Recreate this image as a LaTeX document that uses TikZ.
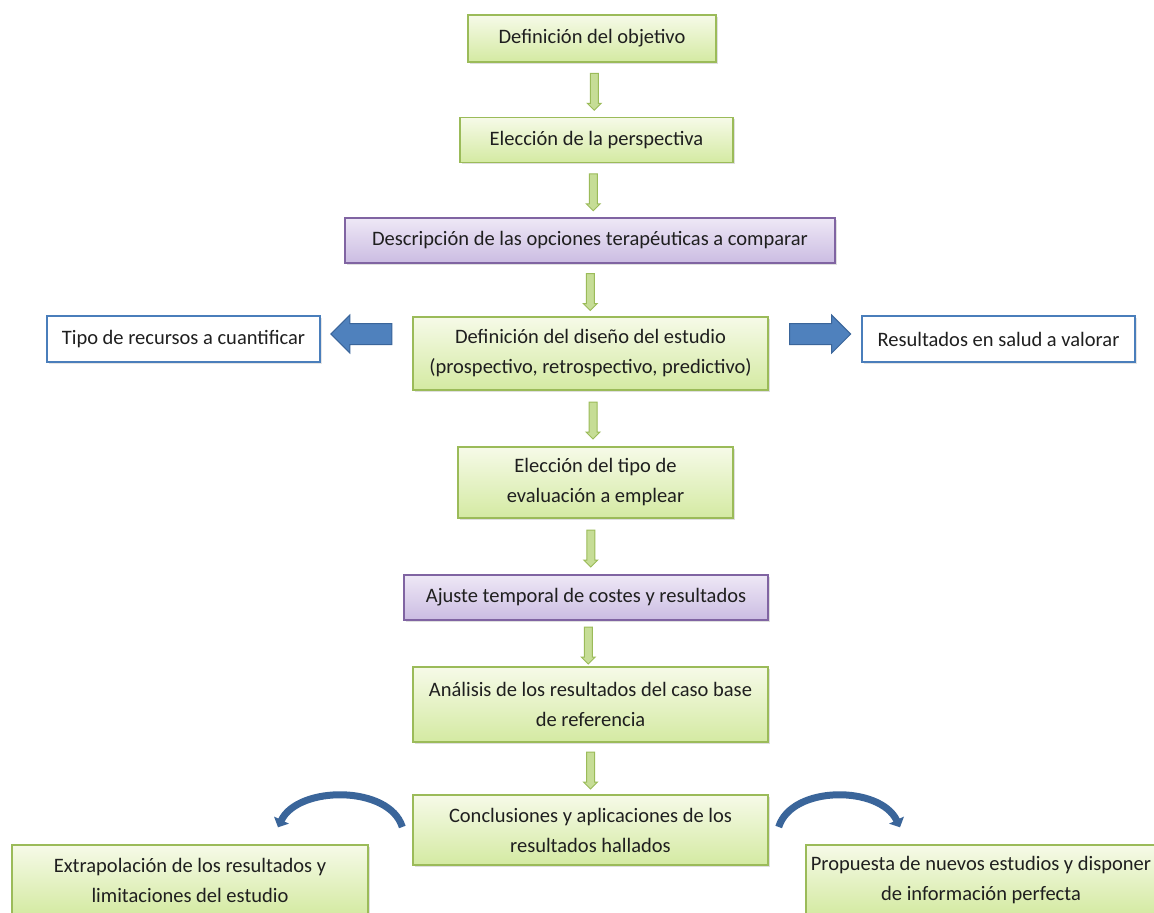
\documentclass[tikz,border=0pt]{standalone}
\usepackage{fontspec}
\setmainfont{Carlito}
\usetikzlibrary{shapes.arrows,shadows,calc,arrows.meta}
\definecolor{gborder}{HTML}{9BBB59}
\definecolor{gtop}{HTML}{F6FAE8}
\definecolor{gbot}{HTML}{D4EAA2}
\definecolor{pborder}{HTML}{8064A2}
\definecolor{ptop}{HTML}{EEE8F6}
\definecolor{pbot}{HTML}{CBBCE2}
\definecolor{bborder}{HTML}{4A7EBB}
\definecolor{bfill}{HTML}{4F81BD}
\definecolor{bdark}{HTML}{3A659A}
\definecolor{txt}{HTML}{1F1F1F}
\definecolor{garfill}{HTML}{C6DD96}
\tikzset{
  box/.style={draw, line width=1.4pt, align=center, inner sep=2pt, text=txt,
    drop shadow={shadow xshift=1.5pt, shadow yshift=-1.5pt, opacity=0.25}},
  gbox/.style={box, draw=gborder, top color=gtop, bottom color=gbot},
  pbox/.style={box, draw=pborder, top color=ptop, bottom color=pbot},
  wbox/.style={draw=bborder, line width=1.6pt, fill=white, text=txt, inner sep=2pt,
    drop shadow={shadow xshift=1.5pt, shadow yshift=-1.5pt, opacity=0.2}},
  garrow/.style={single arrow, draw=gborder, fill=garfill, line width=1pt,
    inner sep=3.5pt, single arrow head extend=3pt, minimum height=37pt,
    rotate=-90},
  barrow/.style={single arrow, draw=bdark, fill=bfill, line width=1pt,
    inner sep=10pt, single arrow head extend=8.5pt, minimum height=61pt},
  curvy/.style={draw=bdark, line width=7pt,
    -{Triangle[width=16pt,length=8pt]}},
}
\begin{document}
\begin{tikzpicture}[x=1pt,y=-1pt,font=\fontsize{20.5}{30}\selectfont]
\useasboundingbox (0,0) rectangle (1154,913);
\fill[white] (0,0) rectangle (1154,913);
\clip (0,0) rectangle (1154,913);

\node[gbox, minimum width=248pt, minimum height=47pt] (b1) at (592,38.5) {Definición del objetivo};
\node[gbox, minimum width=273pt, minimum height=45pt] (b2) at (596.5,140) {Elección de la perspectiva};
\node[pbox, minimum width=490pt, minimum height=45pt] (b3) at (590,240.5) {Descripción de las opciones terapéuticas a comparar};
\node[gbox, minimum width=355pt, minimum height=73pt] (b4) at (590.5,353.5) {Definición del diseño del estudio\\(prospectivo, retrospectivo, predictivo)};
\node[wbox, minimum width=273pt, minimum height=46pt] (tipo) at (183.5,339) {Tipo de recursos a cuantificar};
\node[wbox, minimum width=273pt, minimum height=46pt] (res) at (998.5,339) {Resultados en salud a valorar};
\node[gbox, minimum width=275pt, minimum height=71pt] (b7) at (595.5,482.5) {Elección del tipo de\\evaluación a emplear};
\node[pbox, minimum width=364pt, minimum height=45pt] (b8) at (586,597.5) {Ajuste temporal de costes y resultados};
\node[gbox, minimum width=355pt, minimum height=75pt] (b9) at (590.5,704.5) {Análisis de los resultados del caso base\\de referencia};
\node[gbox, minimum width=355pt, minimum height=70pt] (b10) at (590.5,830) {Conclusiones y aplicaciones de los\\resultados hallados};
\node[gbox, minimum width=356pt, minimum height=70pt] (extra) at (190,880) {Extrapolación de los resultados y\\limitaciones del estudio};
\node[gbox, minimum width=350pt, minimum height=70pt] (prop) at (981,880) {Propuesta de nuevos estudios y disponer\\de información perfecta};

% green down arrows
\node[garrow] (a1) at ($(b1.south)!0.5!(b2.north)$) {};
\node[garrow] (a2) at ($(b2.south)!0.5!(b3.north)$) {};
\node[garrow] (a3) at ($(b3.south)!0.5!(b4.north)$) {};
\node[garrow] (a4) at ($(b4.south)!0.5!(b7.north)$) {};
\node[garrow] (a5) at ($(b7.south)!0.5!(b8.north)$) {};
\node[garrow] (a6) at ($(b8.south)!0.5!(b9.north)$) {};
\node[garrow] (a7) at ($(b9.south)!0.5!(b10.north)$) {};

% blue block arrows
\node[barrow, shape border rotate=180] (al) at ($($(tipo.east)!0.5!(b4.west |- tipo.east)$)+(0,-5)$) {};
\node[barrow] (ar) at ($($(b4.east |- res.west)!0.5!(res.west)$)+(0,-5)$) {};

% curved arrows
\coordinate (l1) at ($(b10.west)+(-10,-3)$);
\coordinate (l2) at ($(extra.north)+(88,-17)$);
\coordinate (r1) at ($(b10.east)+(10,-3)$);
\coordinate (r2) at ($(prop.north)+(-81,-17)$);
\draw[curvy] (l1) .. controls ($(l1)+(-13,-42)$) and ($(l2)+(20,-42)$) .. (l2);
\draw[curvy] (r1) .. controls ($(r1)+(13,-42)$) and ($(r2)+(-20,-42)$) .. (r2);
\end{tikzpicture}
\end{document}
